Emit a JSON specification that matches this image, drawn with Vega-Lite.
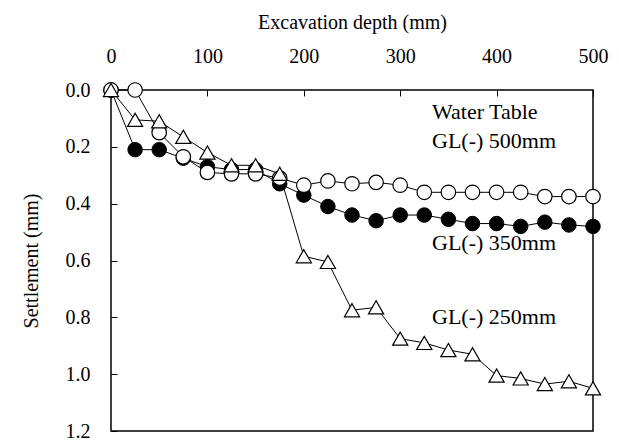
{
  "$schema": "https://vega.github.io/schema/vega-lite/v6.json",
  "autosize": {"type": "none"},
  "padding": {"left": 111, "top": 90, "right": 26, "bottom": 10},
  "width": 482,
  "height": 341,
  "background": "white",
  "config": {
    "view": {"stroke": "black", "strokeWidth": 1.5},
    "font": "Liberation Serif",
    "axis": {"grid": false, "domain": false, "tickColor": "black", "labelColor": "black", "titleColor": "black", "labelFont": "Liberation Serif", "titleFont": "Liberation Serif", "labelFontSize": 20, "titleFontSize": 20, "titleFontWeight": "normal"}
  },
  "datasets": {
    "pts": [
      {"depth": 0, "settlement": 0.0, "series": "GL(-) 500mm"},
      {"depth": 25, "settlement": 0.0, "series": "GL(-) 500mm"},
      {"depth": 50, "settlement": 0.15, "series": "GL(-) 500mm"},
      {"depth": 75, "settlement": 0.235, "series": "GL(-) 500mm"},
      {"depth": 100, "settlement": 0.29, "series": "GL(-) 500mm"},
      {"depth": 125, "settlement": 0.295, "series": "GL(-) 500mm"},
      {"depth": 150, "settlement": 0.295, "series": "GL(-) 500mm"},
      {"depth": 175, "settlement": 0.31, "series": "GL(-) 500mm"},
      {"depth": 200, "settlement": 0.335, "series": "GL(-) 500mm"},
      {"depth": 225, "settlement": 0.32, "series": "GL(-) 500mm"},
      {"depth": 250, "settlement": 0.33, "series": "GL(-) 500mm"},
      {"depth": 275, "settlement": 0.325, "series": "GL(-) 500mm"},
      {"depth": 300, "settlement": 0.335, "series": "GL(-) 500mm"},
      {"depth": 325, "settlement": 0.36, "series": "GL(-) 500mm"},
      {"depth": 350, "settlement": 0.36, "series": "GL(-) 500mm"},
      {"depth": 375, "settlement": 0.36, "series": "GL(-) 500mm"},
      {"depth": 400, "settlement": 0.36, "series": "GL(-) 500mm"},
      {"depth": 425, "settlement": 0.36, "series": "GL(-) 500mm"},
      {"depth": 450, "settlement": 0.375, "series": "GL(-) 500mm"},
      {"depth": 475, "settlement": 0.375, "series": "GL(-) 500mm"},
      {"depth": 500, "settlement": 0.375, "series": "GL(-) 500mm"},
      {"depth": 0, "settlement": 0.0, "series": "GL(-) 350mm"},
      {"depth": 25, "settlement": 0.21, "series": "GL(-) 350mm"},
      {"depth": 50, "settlement": 0.21, "series": "GL(-) 350mm"},
      {"depth": 75, "settlement": 0.24, "series": "GL(-) 350mm"},
      {"depth": 100, "settlement": 0.27, "series": "GL(-) 350mm"},
      {"depth": 125, "settlement": 0.28, "series": "GL(-) 350mm"},
      {"depth": 150, "settlement": 0.28, "series": "GL(-) 350mm"},
      {"depth": 175, "settlement": 0.33, "series": "GL(-) 350mm"},
      {"depth": 200, "settlement": 0.37, "series": "GL(-) 350mm"},
      {"depth": 225, "settlement": 0.41, "series": "GL(-) 350mm"},
      {"depth": 250, "settlement": 0.44, "series": "GL(-) 350mm"},
      {"depth": 275, "settlement": 0.46, "series": "GL(-) 350mm"},
      {"depth": 300, "settlement": 0.44, "series": "GL(-) 350mm"},
      {"depth": 325, "settlement": 0.44, "series": "GL(-) 350mm"},
      {"depth": 350, "settlement": 0.455, "series": "GL(-) 350mm"},
      {"depth": 375, "settlement": 0.47, "series": "GL(-) 350mm"},
      {"depth": 400, "settlement": 0.47, "series": "GL(-) 350mm"},
      {"depth": 425, "settlement": 0.48, "series": "GL(-) 350mm"},
      {"depth": 450, "settlement": 0.465, "series": "GL(-) 350mm"},
      {"depth": 475, "settlement": 0.475, "series": "GL(-) 350mm"},
      {"depth": 500, "settlement": 0.48, "series": "GL(-) 350mm"},
      {"depth": 0, "settlement": 0.0, "series": "GL(-) 250mm"},
      {"depth": 25, "settlement": 0.105, "series": "GL(-) 250mm"},
      {"depth": 50, "settlement": 0.11, "series": "GL(-) 250mm"},
      {"depth": 75, "settlement": 0.165, "series": "GL(-) 250mm"},
      {"depth": 100, "settlement": 0.22, "series": "GL(-) 250mm"},
      {"depth": 125, "settlement": 0.265, "series": "GL(-) 250mm"},
      {"depth": 150, "settlement": 0.265, "series": "GL(-) 250mm"},
      {"depth": 175, "settlement": 0.295, "series": "GL(-) 250mm"},
      {"depth": 200, "settlement": 0.585, "series": "GL(-) 250mm"},
      {"depth": 225, "settlement": 0.605, "series": "GL(-) 250mm"},
      {"depth": 250, "settlement": 0.775, "series": "GL(-) 250mm"},
      {"depth": 275, "settlement": 0.765, "series": "GL(-) 250mm"},
      {"depth": 300, "settlement": 0.875, "series": "GL(-) 250mm"},
      {"depth": 325, "settlement": 0.89, "series": "GL(-) 250mm"},
      {"depth": 350, "settlement": 0.915, "series": "GL(-) 250mm"},
      {"depth": 375, "settlement": 0.93, "series": "GL(-) 250mm"},
      {"depth": 400, "settlement": 1.005, "series": "GL(-) 250mm"},
      {"depth": 425, "settlement": 1.015, "series": "GL(-) 250mm"},
      {"depth": 450, "settlement": 1.035, "series": "GL(-) 250mm"},
      {"depth": 475, "settlement": 1.025, "series": "GL(-) 250mm"},
      {"depth": 500, "settlement": 1.05, "series": "GL(-) 250mm"}
    ],
    "labels": [
      {"text": "Water Table", "depth": 333, "settlement": 0.077},
      {"text": "GL(-) 500mm", "depth": 333, "settlement": 0.18},
      {"text": "GL(-) 350mm", "depth": 333, "settlement": 0.54},
      {"text": "GL(-) 250mm", "depth": 333, "settlement": 0.8}
    ]
  },
  "encoding": {
    "x": {"field": "depth", "type": "quantitative", "scale": {"domain": [0, 500], "nice": false, "zero": false},
      "axis": {"orient": "top", "title": "Excavation depth (mm)", "values": [0, 100, 200, 300, 400, 500], "tickSize": -6, "labelPadding": 30, "titlePadding": 14, "labelFlush": false}},
    "y": {"field": "settlement", "type": "quantitative", "scale": {"domain": [0, 1.2], "reverse": true, "nice": false},
      "axis": {"title": "Settlement (mm)", "values": [0, 0.2, 0.4, 0.6, 0.8, 1.0, 1.2], "format": ".1f", "tickSize": -6, "labelPadding": 27, "titlePadding": 24, "labelFlush": false}}
  },
  "layer": [
    {"data": {"name": "pts"}, "mark": {"type": "line", "color": "black", "strokeWidth": 1}, "encoding": {"detail": {"field": "series"}}},
    {"data": {"name": "pts"}, "transform": [{"filter": "datum.series === 'GL(-) 350mm'"}],
      "mark": {"type": "point", "shape": "circle", "filled": true, "fill": "black", "stroke": "black", "strokeWidth": 1, "size": 210, "opacity": 1}},
    {"data": {"name": "pts"}, "transform": [{"filter": "datum.series === 'GL(-) 500mm'"}],
      "mark": {"type": "point", "shape": "circle", "fill": "white", "stroke": "black", "strokeWidth": 1.2, "size": 210, "opacity": 1, "filled": false, "fillOpacity": 1}},
    {"data": {"name": "pts"}, "transform": [{"filter": "datum.series === 'GL(-) 250mm'"}],
      "mark": {"type": "point", "shape": "triangle-up", "fill": "white", "stroke": "black", "strokeWidth": 1.2, "size": 230, "opacity": 1, "filled": false, "fillOpacity": 1}},
    {"data": {"name": "labels"}, "mark": {"type": "text", "align": "left", "baseline": "middle", "font": "Liberation Serif", "fontSize": 22, "color": "black"},
      "encoding": {"text": {"field": "text"}}}
  ]
}
